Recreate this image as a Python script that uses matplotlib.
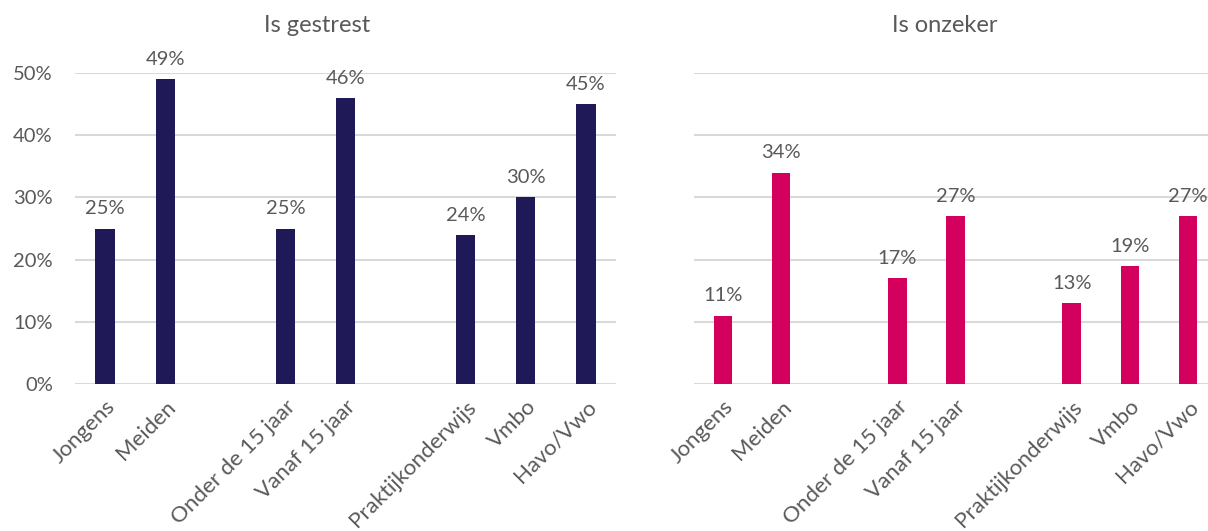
import numpy as np
import matplotlib
matplotlib.use("Agg")
import matplotlib.pyplot as plt
from matplotlib.ticker import PercentFormatter

# data
categories = ["Jongens", "Meiden", "Onder de 15 jaar", "Vanaf 15 jaar",
              "Praktijkonderwijs", "Vmbo", "Havo/Vwo"]
slots = [0, 1, 3, 4, 6, 7, 8]   # lege plek tussen de groepen
gestrest = [25, 49, 25, 46, 24, 30, 45]
onzeker = [11, 34, 17, 27, 13, 19, 27]

navy = "#1F1A57"
magenta = "#D3005E"
grey_txt = "#595959"
grid_col = "#D9D9D9"

plt.rcParams['font.family'] = ['Lato', 'DejaVu Sans']

fig = plt.figure(figsize=(12.08, 5.31), dpi=100)
ax1 = fig.add_axes([75/1208, 1 - 384/531, 541/1208, 311/531])
ax2 = fig.add_axes([694/1208, 1 - 384/531, 523/1208, 311/531])

def draw(ax, vals, color, show_y):
    ax.bar(slots, vals, width=0.32, color=color, zorder=3)
    for x, v in zip(slots, vals):
        ax.annotate(f"{v}%", (x, v), xytext=(0, 8), textcoords="offset points",
                    ha="center", va="bottom", fontsize=14.5, color=grey_txt)
    ax.set_xlim(-0.5, 8.5)
    ax.set_ylim(0, 50)
    ax.set_yticks(range(0, 51, 10))
    ax.yaxis.set_major_formatter(PercentFormatter(decimals=0))
    ax.grid(axis="y", color=grid_col, linewidth=1.5, zorder=0)
    ax.set_xticks(slots)
    ax.set_xticklabels(categories, rotation=45, ha="right", rotation_mode="anchor",
                       fontsize=16, color=grey_txt)
    ax.tick_params(axis="x", length=0, pad=9)
    ax.tick_params(axis="y", length=0, pad=16, labelsize=14.5, labelcolor=grey_txt)
    if not show_y:
        ax.tick_params(axis="y", labelleft=False)
    for s in ax.spines.values():
        s.set_visible(False)

draw(ax1, gestrest, navy, True)
draw(ax2, onzeker, magenta, False)

fig.text(317/1208, 1 - 25/531, "Is gestrest", ha="center", va="center",
         fontsize=17, color=grey_txt)
fig.text(945/1208, 1 - 25/531, "Is onzeker", ha="center", va="center",
         fontsize=17, color=grey_txt)

fig.savefig("out.png", dpi=100)
